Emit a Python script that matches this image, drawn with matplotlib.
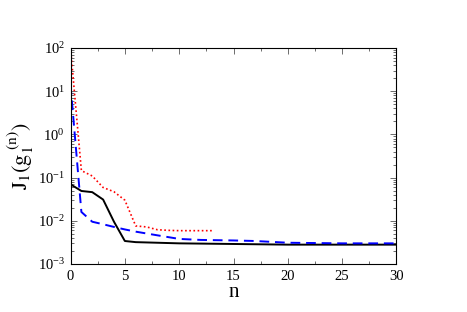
import matplotlib
matplotlib.use("Agg")
import matplotlib.pyplot as plt
from matplotlib.ticker import MultipleLocator, LogLocator, LogFormatterMathtext, NullFormatter

plt.rcParams['font.family'] = ['Liberation Serif', 'DejaVu Serif']
plt.rcParams['mathtext.fontset'] = 'stix'

# data
n_black = [0, 1, 2, 3, 4, 5, 6, 10, 15, 20, 25, 30]
j_black = [0.070, 0.049, 0.046, 0.031, 0.0095, 0.0034, 0.0032, 0.0030, 0.0029, 0.0028, 0.0028, 0.0028]

n_blue = [0, 1, 2, 3, 4, 5, 6, 8, 10, 12, 15, 17, 20, 25, 30]
j_blue = [14.0, 0.016, 0.0095, 0.0083, 0.0072, 0.0063, 0.0056, 0.0046, 0.0038, 0.0036, 0.0035, 0.0034, 0.0031, 0.0030, 0.0030]

n_red = [0, 1, 2, 3, 4, 5, 6, 7, 8, 9, 10, 11, 12, 13]
j_red = [100.0, 0.145, 0.109, 0.059, 0.047, 0.030, 0.0076, 0.0072, 0.0062, 0.0060, 0.0059, 0.0059, 0.0059, 0.0059]

fig = plt.figure(figsize=(4.67, 3.12), dpi=100)
ax = fig.add_axes([0.151, 0.154, 0.698, 0.692])

ax.plot(n_black, j_black, color='black', lw=1.4, ls='-')
ax.plot(n_blue, j_blue, color='#0000ff', lw=1.4, ls=(0, (5, 3)))
ax.plot(n_red, j_red, color='#ff0000', lw=1.2, ls=(0, (1, 1.5)))

ax.set_yscale('log')
ax.set_xlim(0, 30)
ax.set_ylim(1e-3, 1e2)
ax.xaxis.set_major_locator(MultipleLocator(5))
ax.xaxis.set_minor_locator(MultipleLocator(2.5))
ax.yaxis.set_major_locator(LogLocator(base=10))
ax.yaxis.set_minor_locator(LogLocator(base=10, subs=range(2, 10)))
ax.yaxis.set_major_formatter(LogFormatterMathtext())
ax.yaxis.set_minor_formatter(NullFormatter())

ax.tick_params(which='both', direction='in', top=True, right=True, labelsize=10.5, width=0.6, color='#555555')
ax.tick_params(which='major', length=4, pad=4)
ax.tick_params(which='minor', length=2)
for s in ax.spines.values():
    s.set_linewidth(0.8)

ax.set_xlabel('n', fontsize=15, labelpad=0)
ax.set_ylabel(r'$\mathrm{J_1(g_1^{\ (n)})}$', fontsize=16, labelpad=1)

fig.savefig('out.png', dpi=100)
